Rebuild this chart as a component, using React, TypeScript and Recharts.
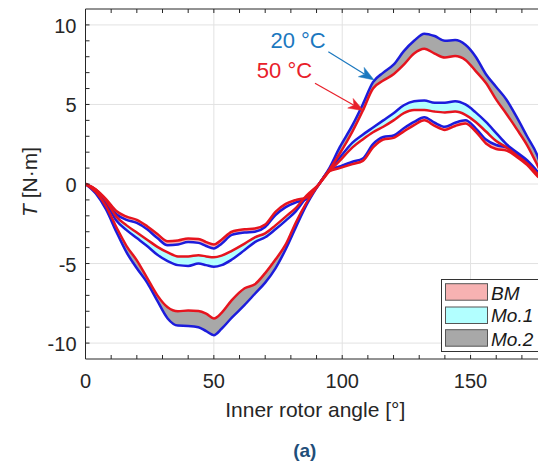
import React from 'react';
import {
  ComposedChart,
  Line,
  Area,
  XAxis,
  YAxis,
  CartesianGrid,
  Legend,
  ReferenceLine,
  ReferenceDot,
} from 'recharts';

// ---------------- data ----------------
const angles = [0, 4, 8, 12, 16, 20, 24, 28, 32, 36, 40, 44, 47, 50, 53, 57, 62, 66, 70, 74, 78, 82, 86, 91, 95, 99, 104, 108, 112, 116, 120, 124, 128, 132, 136, 140, 144, 148, 152, 156, 160, 164, 168, 172, 176, 179];

const bm20 = [0, -0.4, -1.1, -1.9, -2.25, -2.45, -2.85, -3.4, -3.85, -3.8, -3.65, -3.7, -3.9, -4.05, -3.75, -3.2, -3.05, -3.0, -2.7, -1.95, -1.45, -1.15, -0.95, 0, 0.85, 1.1, 1.4, 1.6, 2.5, 2.95, 3.05, 3.5, 3.9, 4.2, 3.85, 3.6, 3.85, 4.0, 3.5, 2.8, 2.45, 2.3, 1.9, 1.35, 0.7, 0.15];
const bm50 = [0, -0.35, -0.95, -1.7, -2.05, -2.25, -2.65, -3.15, -3.6, -3.55, -3.42, -3.45, -3.65, -3.8, -3.5, -3.0, -2.85, -2.8, -2.55, -1.75, -1.25, -1.0, -0.85, 0, 0.8, 1.0, 1.25, 1.45, 2.3, 2.8, 2.9, 3.3, 3.7, 4.0, 3.65, 3.4, 3.65, 3.8, 3.3, 2.55, 2.2, 2.1, 1.7, 1.2, 0.5, 0.1];

const mo1_20 = [0, -0.4, -1.2, -2.3, -2.9, -3.4, -3.9, -4.45, -4.85, -5.1, -5.15, -5.0, -5.1, -5.2, -5.1, -4.75, -4.15, -3.65, -3.35, -2.85, -2.3, -1.7, -0.85, 0, 0.9, 1.65, 2.6, 3.1, 3.55, 4.0, 4.45, 4.95, 5.2, 5.25, 5.1, 5.1, 5.2, 5.0, 4.5, 3.9, 3.2, 2.5, 2.0, 1.5, 0.8, 0.2];
const mo1_50 = [0, -0.35, -1.05, -2.05, -2.6, -3.05, -3.5, -3.95, -4.3, -4.55, -4.55, -4.48, -4.55, -4.6, -4.5, -4.2, -3.75, -3.35, -3.1, -2.6, -2.05, -1.5, -0.75, 0, 0.8, 1.45, 2.3, 2.8, 3.25, 3.6, 4.0, 4.45, 4.65, 4.65, 4.55, 4.5, 4.55, 4.35, 3.9, 3.3, 2.7, 2.3, 1.8, 1.3, 0.65, 0.15];

const mo2_20 = [0, -0.6, -1.6, -3.0, -4.3, -5.3, -6.2, -7.35, -8.45, -8.9, -8.92, -9.0, -9.25, -9.5, -9.1, -8.4, -7.6, -6.9, -6.2, -5.3, -4.1, -2.7, -1.35, 0, 1.0, 2.3, 3.7, 5.0, 6.4, 7.0, 7.5, 8.35, 9.0, 9.45, 9.3, 9.0, 9.05, 8.75, 8.0, 6.9, 6.1, 5.3, 4.2, 3.0, 1.8, 0.3];
const mo2_50 = [0, -0.5, -1.4, -2.7, -3.9, -4.8, -5.9, -7.0, -7.75, -8.0, -7.95, -7.98, -8.15, -8.45, -8.1, -7.3, -6.55, -6.3, -5.6, -4.75, -3.8, -2.4, -1.2, 0, 0.9, 1.9, 3.3, 4.6, 6.0, 6.5, 6.9, 7.5, 8.2, 8.5, 8.2, 7.95, 8.05, 7.8, 7.1, 6.35, 5.3, 4.4, 3.45, 2.45, 1.2, 0.2];

const xMajor = [0, 50, 100, 150];
const xMinor = [0, 10, 20, 30, 40, 50, 60, 70, 80, 90, 100, 110, 120, 130, 140, 150, 160, 170];
const yMajor = [-10, -5, 0, 5, 10];
const yMinor = [-10, -9, -8, -7, -6, -5, -4, -3, -2, -1, 0, 1, 2, 3, 4, 5, 6, 7, 8, 9, 10];

const legendNames = ['BM', 'Mo.1', 'Mo.2'];
const legendFills = ['#f7b2b2', '#b2ffff', '#a8a8a8'];

const annText20 = '20 °C';
const annText50 = '50 °C';
// annotation anchor points, in data units
const ann20Pos = { x: 82.8, y: 9.05 };
const ann50Pos = { x: 77.5, y: 7.16 };
const arrow20 = [{ x: 94.6, y: 8.32 }, { x: 112.4, y: 6.54 }];
const arrow50 = [{ x: 89.4, y: 6.33 }, { x: 108.3, y: 4.61 }];

const data = angles.map((a, i) => ({
  angle: a,
  bm20: bm20[i],
  bm50: bm50[i],
  mo1_20: mo1_20[i],
  mo1_50: mo1_50[i],
  mo2_20: mo2_20[i],
  mo2_50: mo2_50[i],
}));

// ---------------- style ----------------
const FONT = '"Liberation Sans", Arial, Helvetica, sans-serif';
const AXIS = '#262626';
const TXT = '#262626';
const BLUE = '#1c1cdc';
const RED = '#e6141e';
const ANN_BLUE = '#1b78bf';
const ANN_RED = '#e8202a';
const TL = 4;
const LW = 2.5;

function BottomTick(props: any) {
  const { x, y, payload } = props;
  const v = payload.value;
  return (
    <g>
      <line x1={x} y1={y} x2={x} y2={y - TL} stroke={AXIS} strokeWidth={1} />
      {xMajor.includes(v) ? (
        <text x={x} y={y + 29} textAnchor="middle" fontSize={20} fontFamily={FONT} fill={TXT}>
          {v}
        </text>
      ) : null}
    </g>
  );
}

function TopTick(props: any) {
  const { x, y } = props;
  return <line x1={x} y1={y} x2={x} y2={y + TL} stroke={AXIS} strokeWidth={1} />;
}

function LeftTick(props: any) {
  const { x, y, payload } = props;
  const v = payload.value;
  return (
    <g>
      <line x1={x} y1={y} x2={x + TL} y2={y} stroke={AXIS} strokeWidth={1} />
      {yMajor.includes(v) ? (
        <text x={x - 9} y={y + 8} textAnchor="end" fontSize={20} fontFamily={FONT} fill={TXT}>
          {v}
        </text>
      ) : null}
    </g>
  );
}

function RightTick(props: any) {
  const { x, y } = props;
  return <line x1={x} y1={y} x2={x - TL} y2={y} stroke={AXIS} strokeWidth={1} />;
}

function XLabel(props: any) {
  const vb = props.viewBox || { x: 77.5, y: 351, width: 459.5, height: 105 };
  const cx = vb.x + vb.width / 2;
  return (
    <g>
      <text x={cx} y={vb.y + 58} textAnchor="middle" fontSize={21} fontFamily={FONT} fill={TXT}>
        Inner rotor angle [°]
      </text>
      <text x={cx - 10.5} y={vb.y + 98} textAnchor="middle" fontSize={19} fontWeight="bold" fontFamily={FONT} fill="#1f4e79">
        (a)
      </text>
    </g>
  );
}

function YLabel(props: any) {
  const vb = props.viewBox || { x: 0, y: 1, width: 77.5, height: 350 };
  const cx = vb.x + 28.5;
  const cy = vb.y + vb.height / 2 - 2;
  return (
    <text x={cx} y={cy} transform={`rotate(-90 ${cx} ${cy})`} textAnchor="middle" fontSize={21} fontFamily={FONT} fill={TXT}>
      <tspan fontStyle="italic">T</tspan> [N·m]
    </text>
  );
}

function ArrowShape(props: any) {
  const { x1, y1, x2, y2, color } = props;
  if ([x1, y1, x2, y2].some((v) => typeof v !== 'number' || isNaN(v))) return null;
  const dx = x2 - x1;
  const dy = y2 - y1;
  const len = Math.hypot(dx, dy) || 1;
  const ux = dx / len;
  const uy = dy / len;
  const px = -uy;
  const py = ux;
  const L = 15;
  const W = 5.5;
  const notch = 4;
  const bx = x2 - ux * L;
  const by = y2 - uy * L;
  const nx = x2 - ux * (L - notch);
  const ny = y2 - uy * (L - notch);
  const pts = `${x2},${y2} ${bx + px * W},${by + py * W} ${nx},${ny} ${bx - px * W},${by - py * W}`;
  return (
    <g>
      <line x1={x1} y1={y1} x2={nx} y2={ny} stroke={color} strokeWidth={1.2} />
      <polygon points={pts} fill={color} stroke={color} strokeWidth={0.5} />
    </g>
  );
}

function LegendBox() {
  const rowTop = [4.7, 28, 50.7];
  const base = [20.7, 43.4, 66.7];
  return (
    <svg width={98} height={73} style={{ display: 'block' }}>
      <rect x={0.5} y={0.5} width={97} height={72} fill="#ffffff" stroke="#333" strokeWidth={1} />
      {legendNames.map((n, i) => (
        <g key={n}>
          <rect x={4.5} y={rowTop[i]} width={42} height={16.5} fill={legendFills[i]} stroke="#555" strokeWidth={1} />
          <text x={50} y={base[i]} fontSize={19} fontStyle="italic" fontFamily={FONT} fill="#1a1a1a">
            {n}
          </text>
        </g>
      ))}
    </svg>
  );
}

export default function App() {
  return (
    <div style={{ width: 538, height: 456 }}>
      <ComposedChart width={538} height={456} data={data} margin={{ top: 0, right: 0, bottom: 0, left: 0 }}>
        <CartesianGrid verticalValues={xMajor} horizontalValues={yMajor} stroke="#e2e2e2" strokeWidth={1} />
        <XAxis
          dataKey="angle"
          type="number"
          domain={[0, 179]}
          ticks={xMinor}
          interval={0}
          tick={<BottomTick />}
          tickLine={false}
          tickSize={0}
          tickMargin={0}
          axisLine={{ stroke: AXIS, strokeWidth: 1 }}
          height={105}
          allowDataOverflow
          label={(p: any) => <XLabel {...p} />}
        />
        <XAxis
          xAxisId="top"
          orientation="top"
          dataKey="angle"
          type="number"
          domain={[0, 179]}
          ticks={xMinor}
          interval={0}
          tick={<TopTick />}
          tickLine={false}
          tickSize={0}
          tickMargin={0}
          axisLine={{ stroke: AXIS, strokeWidth: 1 }}
          height={1}
          allowDataOverflow
        />
        <YAxis
          type="number"
          domain={[-11, 11]}
          ticks={yMinor}
          interval={0}
          tick={<LeftTick />}
          tickLine={false}
          tickSize={0}
          tickMargin={0}
          axisLine={{ stroke: AXIS, strokeWidth: 1 }}
          width={77.5}
          allowDataOverflow
          label={(p: any) => <YLabel {...p} />}
        />
        <YAxis
          yAxisId="right"
          orientation="right"
          type="number"
          domain={[-11, 11]}
          ticks={yMinor}
          interval={0}
          tick={<RightTick />}
          tickLine={false}
          tickSize={0}
          tickMargin={0}
          axisLine={{ stroke: AXIS, strokeWidth: 1 }}
          width={1}
          allowDataOverflow
        />

        <Area dataKey={(d: any) => [d.mo2_50, d.mo2_20]} type="monotone" stroke="none" fill={legendFills[2]} fillOpacity={1} isAnimationActive={false} />
        <Area dataKey={(d: any) => [d.mo1_50, d.mo1_20]} type="monotone" stroke="none" fill={legendFills[1]} fillOpacity={1} isAnimationActive={false} />
        <Area dataKey={(d: any) => [d.bm50, d.bm20]} type="monotone" stroke="none" fill={legendFills[0]} fillOpacity={1} isAnimationActive={false} />

        <Line dataKey="mo2_20" type="monotone" stroke={BLUE} strokeWidth={LW} dot={false} isAnimationActive={false} />
        <Line dataKey="mo1_20" type="monotone" stroke={BLUE} strokeWidth={LW} dot={false} isAnimationActive={false} />
        <Line dataKey="bm20" type="monotone" stroke={BLUE} strokeWidth={LW} dot={false} isAnimationActive={false} />
        <Line dataKey="mo2_50" type="monotone" stroke={RED} strokeWidth={LW} dot={false} isAnimationActive={false} />
        <Line dataKey="mo1_50" type="monotone" stroke={RED} strokeWidth={LW} dot={false} isAnimationActive={false} />
        <Line dataKey="bm50" type="monotone" stroke={RED} strokeWidth={LW} dot={false} isAnimationActive={false} />

        <ReferenceLine segment={arrow20} shape={(p: any) => <ArrowShape {...p} color={ANN_BLUE} />} />
        <ReferenceLine segment={arrow50} shape={(p: any) => <ArrowShape {...p} color={ANN_RED} />} />
        <ReferenceDot
          x={ann20Pos.x}
          y={ann20Pos.y}
          r={0}
          fill="none"
          stroke="none"
          label={{ value: annText20, position: 'center', fill: ANN_BLUE, fontSize: 22, fontFamily: FONT }}
        />
        <ReferenceDot
          x={ann50Pos.x}
          y={ann50Pos.y}
          r={0}
          fill="none"
          stroke="none"
          label={{ value: annText50, position: 'center', fill: ANN_RED, fontSize: 22, fontFamily: FONT }}
        />

        <Legend
          layout="vertical"
          align="center"
          verticalAlign="middle"
          content={() => <LegendBox />}
          wrapperStyle={{ left: 432.7, top: 271.3, width: 98, height: 73 }}
        />
      </ComposedChart>
    </div>
  );
}
